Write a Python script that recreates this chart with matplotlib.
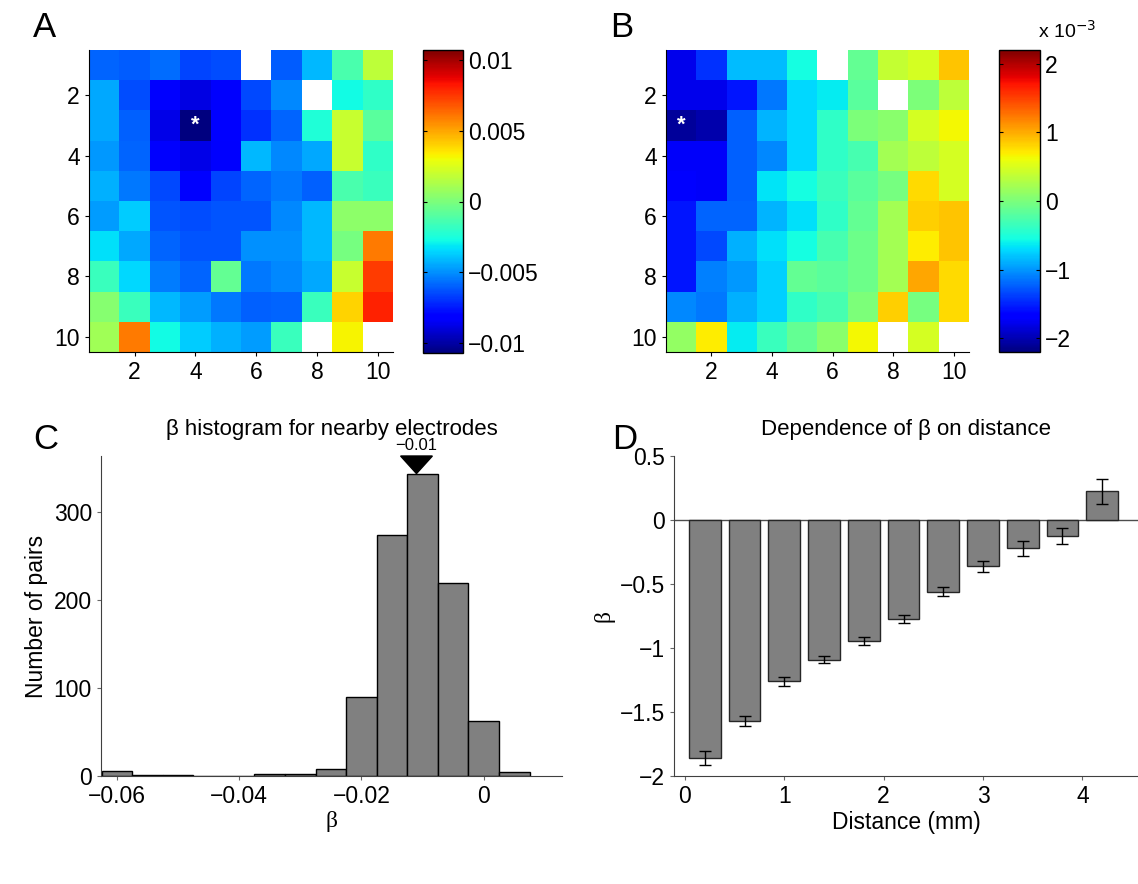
import numpy as np
import matplotlib
matplotlib.use("Agg")
import matplotlib.pyplot as plt
from matplotlib.patches import Polygon

plt.rcParams['font.family'] = ['Liberation Sans', 'DejaVu Sans']
plt.rcParams['axes.unicode_minus'] = True

nan = np.nan

# beta maps for the two seed electrodes (rows 1..10 top to bottom, columns 1..10)
beta_map_a = np.array([
    [-0.0059, -0.0061, -0.0057, -0.0066, -0.0064, nan, -0.0061, -0.0041, -0.0013, 0.0017],
    [-0.0045, -0.0064, -0.0080, -0.0088, -0.0083, -0.0065, -0.0051, nan, -0.0027, -0.0020],
    [-0.0045, -0.0060, -0.0087, -0.0107, -0.0081, -0.0070, -0.0059, -0.0024, 0.0020, -0.0009],
    [-0.0048, -0.0059, -0.0083, -0.0087, -0.0083, -0.0041, -0.0051, -0.0045, 0.0020, -0.0020],
    [-0.0043, -0.0055, -0.0065, -0.0081, -0.0066, -0.0059, -0.0055, -0.0060, -0.0013, -0.0017],
    [-0.0047, -0.0037, -0.0062, -0.0064, -0.0062, -0.0062, -0.0051, -0.0041, 0.0005, 0.0005],
    [-0.0033, -0.0045, -0.0059, -0.0062, -0.0062, -0.0050, -0.0050, -0.0041, -0.0001, 0.0060],
    [-0.0017, -0.0035, -0.0054, -0.0059, -0.0006, -0.0055, -0.0051, -0.0045, 0.0020, 0.0074],
    [0.0003, -0.0017, -0.0041, -0.0047, -0.0055, -0.0060, -0.0059, -0.0017, 0.0040, 0.0080],
    [0.0010, 0.0060, -0.0027, -0.0037, -0.0043, -0.0047, -0.0017, nan, 0.0032, nan],
])
seed_a = (4, 3)

# second map, in units of 1e-3
beta_map_b = np.array([
    [-1.78, -1.44, -0.84, -0.84, -0.55, nan, -0.13, 0.38, 0.48, 0.89],
    [-1.78, -1.78, -1.55, -1.13, -0.72, -0.62, -0.18, nan, 0.00, 0.35],
    [-2.09, -2.02, -1.23, -0.86, -0.72, -0.41, 0.00, 0.07, 0.48, 0.65],
    [-1.72, -1.72, -1.23, -1.06, -0.72, -0.41, -0.28, 0.21, 0.35, 0.48],
    [-1.68, -1.72, -1.23, -0.66, -0.55, -0.35, -0.18, -0.03, 0.79, 0.48],
    [-1.55, -1.21, -1.21, -0.86, -0.68, -0.41, -0.13, 0.21, 0.83, 0.89],
    [-1.55, -1.34, -0.89, -0.68, -0.55, -0.28, -0.07, 0.21, 0.70, 0.89],
    [-1.55, -1.10, -0.99, -0.75, -0.13, -0.18, -0.07, 0.21, 1.03, 0.79],
    [-1.06, -1.13, -0.89, -0.75, -0.41, -0.28, 0.00, 0.83, -0.03, 0.79],
    [0.13, 0.70, -0.62, -0.35, -0.13, 0.07, 0.65, nan, 0.48, nan],
])
seed_b = (1, 3)

# histogram of beta for nearby electrode pairs
hist_centers = [-0.060, -0.055, -0.050, -0.045, -0.040, -0.035, -0.030,
                -0.025, -0.020, -0.015, -0.010, -0.005, 0.000, 0.005]
hist_counts = [6, 1, 1, 0, 0, 2, 2, 8, 90, 274, 344, 220, 63, 4]
hist_width = 0.005
mean_beta = -0.011

# beta vs distance
distance_mm = [0.2, 0.6, 1.0, 1.4, 1.8, 2.2, 2.6, 3.0, 3.4, 3.8, 4.2]
beta_dist = [-1.86, -1.57, -1.26, -1.09, -0.945, -0.773, -0.562, -0.362, -0.221, -0.125, 0.224]
beta_err = [0.055, 0.04, 0.035, 0.03, 0.03, 0.03, 0.035, 0.045, 0.06, 0.065, 0.10]

W, H = 1138, 884
fig = plt.figure(figsize=(W / 100, H / 100), dpi=100)


def px_axes(x0, y0, x1, y1):
    return fig.add_axes([x0 / W, 1 - y1 / H, (x1 - x0) / W, (y1 - y0) / H])


TICK_FS = 16.5
cmap = plt.get_cmap('jet').copy()
cmap.set_bad('white')


def heatmap(ax, cax, data, vmin, vmax, seed, cticks, clabels):
    im = ax.imshow(np.ma.masked_invalid(data), cmap=cmap, vmin=vmin, vmax=vmax,
                   extent=(0.5, 10.5, 10.5, 0.5), aspect='auto', interpolation='nearest')
    ax.text(seed[0], seed[1], '*', color='white', ha='center', va='center',
            fontsize=16, fontweight='bold')
    ax.set_xticks([2, 4, 6, 8, 10])
    ax.set_yticks([2, 4, 6, 8, 10])
    for s in ['top', 'right']:
        ax.spines[s].set_visible(False)
    ax.tick_params(labelsize=TICK_FS, direction='out', length=3)
    cb = fig.colorbar(im, cax=cax)
    cb.set_ticks(cticks)
    cb.set_ticklabels(clabels)
    cax.tick_params(labelsize=TICK_FS, direction='in', length=3, left=True, right=True)
    cb.outline.set_linewidth(1)
    return cb


# panel A
ax_a = px_axes(89, 50, 393, 352)
cax_a = px_axes(423, 50, 463, 353)
heatmap(ax_a, cax_a, beta_map_a, -0.0107, 0.0107, seed_a,
        [-0.01, -0.005, 0, 0.005, 0.01], ['\u22120.01', '\u22120.005', '0', '0.005', '0.01'])

# panel B
ax_b = px_axes(666, 50, 969, 352)
cax_b = px_axes(999, 50, 1040, 352)
heatmap(ax_b, cax_b, beta_map_b, -2.2, 2.2, seed_b,
        [-2, -1, 0, 1, 2], ['\u22122', '\u22121', '0', '1', '2'])
fig.text(1038 / W, 1 - 38 / H, 'x 10$^{-3}$', fontsize=14, ha='left', va='baseline')

# panel C: histogram
ax_c = px_axes(101, 456, 562, 776)
ax_c.bar(hist_centers, hist_counts, width=hist_width, color='0.5', edgecolor='black', linewidth=1)
ax_c.set_xlim(-0.0626, 0.0128)
ax_c.set_ylim(0, 364)
ax_c.set_xticks([-0.06, -0.04, -0.02, 0])
ax_c.set_xticklabels(['\u22120.06', '\u22120.04', '\u22120.02', '0'])
ax_c.set_yticks([0, 100, 200, 300])
ax_c.set_xlabel('\u03b2', fontsize=17, family='Liberation Serif', labelpad=2)
ax_c.set_ylabel('Number of pairs', fontsize=16.5)
ax_c.set_title('\u03b2 histogram for nearby electrodes', fontsize=16, pad=15)
tri_w = 0.0026
tri = Polygon([[mean_beta - tri_w, 364], [mean_beta + tri_w, 364], [mean_beta, max(hist_counts)]],
              closed=True, color='black', clip_on=False)
ax_c.add_patch(tri)
ax_c.text(mean_beta, 367, '\u22120.01', ha='center', va='bottom', fontsize=12)

# panel D: beta vs distance
ax_d = px_axes(674, 456, 1138, 776)
ax_d.bar(distance_mm, beta_dist, width=0.32, color='0.5', edgecolor='0.15', linewidth=1, zorder=2)
ax_d.errorbar(distance_mm, beta_dist, yerr=beta_err, fmt='none', ecolor='black',
              elinewidth=1, capsize=4.5, capthick=1, zorder=3)
ax_d.axhline(0, color='0.3', linewidth=1, zorder=1)
ax_d.set_xlim(-0.11, 4.56)
ax_d.set_ylim(-2, 0.5)
ax_d.set_xticks([0, 1, 2, 3, 4])
ax_d.set_yticks([-2, -1.5, -1, -0.5, 0, 0.5])
ax_d.set_yticklabels(['\u22122', '\u22121.5', '\u22121', '\u22120.5', '0', '0.5'])
ax_d.set_xlabel('Distance (mm)', fontsize=16.5, labelpad=2)
ax_d.set_ylabel('\u03b2', fontsize=17, family='Liberation Serif')
ax_d.set_title('Dependence of \u03b2 on distance', fontsize=16, pad=15)

for ax in (ax_c, ax_d):
    for s in ['top', 'right']:
        ax.spines[s].set_visible(False)
    for s in ['left', 'bottom']:
        ax.spines[s].set_color('0.25')
    ax.tick_params(labelsize=TICK_FS, direction='out', length=3, color='0.4')

# panel letters
for lbl, x, y in [('A', 33, 37), ('B', 610, 37), ('C', 33, 449), ('D', 612, 449)]:
    fig.text(x / W, 1 - y / H, lbl, fontsize=25, ha='left', va='baseline')

fig.savefig('out.png', dpi=100)
